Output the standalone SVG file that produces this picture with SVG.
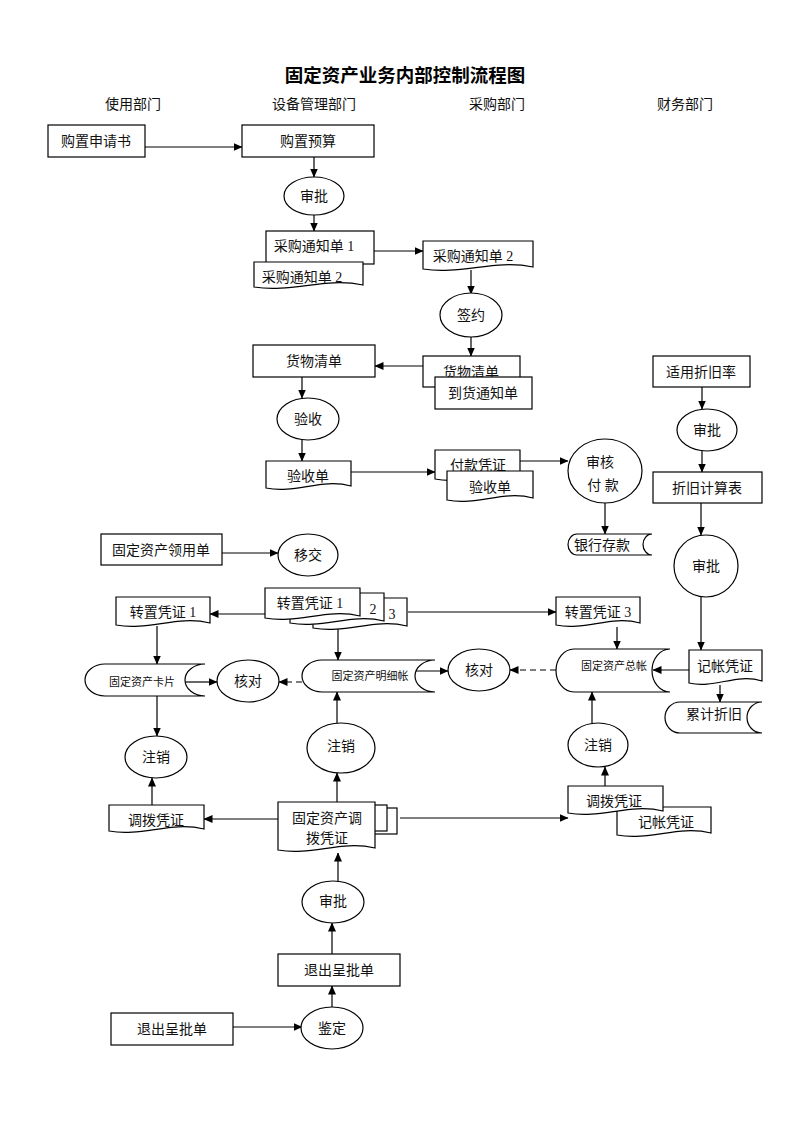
<svg xmlns="http://www.w3.org/2000/svg" width="800" height="1132" viewBox="0 0 800 1132">
<style>
.s{fill:#fff;stroke:#000;stroke-width:1.2}
.t{font-family:'Liberation Serif','Noto Sans CJK SC',serif;font-size:14px;fill:#111;text-anchor:middle;dominant-baseline:central}
.sm{font-size:11px}
.h{font-family:'Liberation Serif','Noto Sans CJK SC',serif;font-size:14px;fill:#111;text-anchor:middle;dominant-baseline:central}
.c{fill:none;stroke:#000;stroke-width:1.2;marker-end:url(#a)}
.d{stroke-dasharray:6,4}
</style>
<defs>
<marker id="a" markerWidth="9" markerHeight="8" refX="8.5" refY="4" orient="auto" markerUnits="userSpaceOnUse"><path d="M0,0 L9,4 L0,8 Z" fill="#000"/></marker>
</defs>
<rect width="800" height="1132" fill="#fff"/>
<text x="405" y="74" style="font-family:'Noto Sans CJK SC',sans-serif;font-size:18.5px;font-weight:bold;text-anchor:middle;dominant-baseline:central">固定资产业务内部控制流程图</text>
<g id="lanes">
<text class="h" x="133" y="104">使用部门</text>
<text class="h" x="314" y="104">设备管理部门</text>
<text class="h" x="497" y="104">采购部门</text>
<text class="h" x="685" y="104">财务部门</text>
</g>
<g id="connectors">
<path class="c" d="M145,147 H242"/>
<path class="c" d="M314,157 V177"/>
<path class="c" d="M314,215 V231"/>
<path class="c" d="M374,251 H423"/>
<path class="c" d="M471,270 V294"/>
<path class="c" d="M471,337 V356"/>
<path class="c" d="M423,366 H375"/>
<path class="c" d="M302,377 V398"/>
<path class="c" d="M302,440 V461"/>
<path class="c" d="M351,472 H435"/>
<path class="c" d="M520,461 H568"/>
<path class="c" d="M605,503 V534"/>
<path class="c" d="M702,387 V409"/>
<path class="c" d="M702,451 V472"/>
<path class="c" d="M701,503 V535"/>
<path class="c" d="M701,597 V650"/>
<path class="c" d="M689,670 H653"/>
<path class="c" d="M720,685 V702"/>
<path class="c" d="M617,627 V649"/>
<path class="c" d="M592,723 V692"/>
<path class="c d" d="M556,670 H510"/>
<path class="c" d="M414,671 H448"/>
<path class="c d" d="M302,682 H279"/>
<path class="c" d="M185,682 H217"/>
<path class="c" d="M157,626 V664"/>
<path class="c" d="M157,696 V736"/>
<path class="c" d="M152,805 V778"/>
<path class="c" d="M278,819 H204"/>
<path class="c" d="M337,802 V773"/>
<path class="c" d="M337,723 V692"/>
<path class="c" d="M338,618 V660"/>
<path class="c" d="M265,614 H210"/>
<path class="c" d="M408,612 H556"/>
<path class="c" d="M222,553 H278"/>
<path class="c" d="M400,818 H568"/>
<path class="c" d="M605,786 V767"/>
<path class="c" d="M338,882 V853"/>
<path class="c" d="M332,954 V923"/>
<path class="c" d="M332,1007 V986"/>
<path class="c" d="M233,1027 H302"/>
</g>
<g id="n1"><rect class="s" x="48" y="125" width="97" height="32"/><text class="t" x="96" y="141">购置申请书</text></g>
<g id="n2"><rect class="s" x="242" y="125" width="132" height="32"/><text class="t" x="308" y="141">购置预算</text></g>
<g id="n3"><ellipse class="s" cx="314" cy="196" rx="30" ry="19"/><text class="t" x="314" y="196">审批</text></g>
<g id="n4"><rect class="s" x="266" y="231" width="108" height="33"/><text class="t" x="314" y="246">采购通知单 1</text></g>
<g id="n5"><path class="s" d="M254,262 H363 V285 C325,277 292,293 254,287 Z"/><text class="t" x="302" y="277">采购通知单 2</text></g>
<g id="n6"><path class="s" d="M423,241 H533 V267 C495,259 461,275 423,269 Z"/><text class="t" x="473" y="256">采购通知单 2</text></g>
<g id="n7"><ellipse class="s" cx="471" cy="315" rx="31" ry="22"/><text class="t" x="471" y="315">签约</text></g>
<g id="n8"><rect class="s" x="423" y="356" width="97" height="31"/><text class="t" x="471" y="372">货物清单</text></g>
<g id="n9"><rect class="s" x="435" y="377" width="97" height="32"/><text class="t" x="483" y="393">到货通知单</text></g>
<g id="n10"><rect class="s" x="253" y="345" width="122" height="32"/><text class="t" x="314" y="361">货物清单</text></g>
<g id="n11"><ellipse class="s" cx="308" cy="419" rx="31" ry="21"/><text class="t" x="308" y="419">验收</text></g>
<g id="n12"><path class="s" d="M266,461 H351 V486 C321,478 296,494 266,488 Z"/><text class="t" x="308" y="476">验收单</text></g>
<g id="n13"><path class="s" d="M435,450 H520 V477 C490,469 465,485 435,479 Z"/><text class="t" x="478" y="465">付款凭证</text></g>
<g id="n14"><path class="s" d="M447,471 H533 V498 C503,490 477,506 447,500 Z"/><text class="t" x="490" y="487">验收单</text></g>
<g id="n15"><ellipse class="s" cx="605" cy="471" rx="37" ry="32"/><text class="t" x="600" y="462">审核</text><text class="t" x="603" y="485">付 款</text></g>
<g id="n16"><path class="s" d="M577,534 H652 A9,10.5 0 0 0 652,555 H577 A9,10.5 0 0 1 577,534 Z"/><text class="t" x="602" y="545">银行存款</text></g>
<g id="n17"><rect class="s" x="653" y="356" width="97" height="31"/><text class="t" x="701" y="372">适用折旧率</text></g>
<g id="n18"><ellipse class="s" cx="707" cy="430" rx="30" ry="21"/><text class="t" x="707" y="430">审批</text></g>
<g id="n19"><rect class="s" x="653" y="472" width="109" height="31"/><text class="t" x="707" y="488">折旧计算表</text></g>
<g id="n20"><ellipse class="s" cx="706" cy="566" rx="32" ry="31"/><text class="t" x="706" y="566">审批</text></g>
<g id="n21"><path class="s" d="M689,650 H762 V681 C736,673 715,689 689,683 Z"/><text class="t" x="725" y="666">记帐凭证</text></g>
<g id="n22"><path class="s" d="M680,702 H762 A15,15.5 0 0 0 762,733 H680 A15,15.5 0 0 1 680,702 Z"/><text class="t" x="714" y="714">累计折旧</text></g>
<g id="n23"><path class="s" d="M574,649 H670 A18,21.5 0 0 0 670,692 H574 A18,21.5 0 0 1 574,649 Z"/><text class="t sm" x="614" y="666">固定资产总帐</text></g>
<g id="n24"><path class="s" d="M556,597 H640 V623 C611,615 585,631 556,625 Z"/><text class="t" x="598" y="612">转置凭证 3</text></g>
<g id="n25"><rect class="s" x="101" y="534" width="121" height="31"/><text class="t" x="161" y="550">固定资产领用单</text></g>
<g id="n26"><ellipse class="s" cx="308" cy="555" rx="30" ry="21"/><text class="t" x="308" y="555">移交</text></g>
<g id="n27"><path class="s" d="M116,597 H210 V623 C177,615 149,631 116,625 Z"/><text class="t" x="163" y="612">转置凭证 1</text></g>
<g id="n28">
<path class="s" d="M313,598 H407 V626 C374,618 346,634 313,628 Z"/>
<path class="s" d="M290,593 H384 V621 C351,613 323,629 290,623 Z"/>
<path class="s" d="M265,588 H360 V616 C327,608 298,624 265,618 Z"/>
<text class="t" x="310" y="603">转置凭证 1</text>
<text class="t" x="373" y="609">2</text>
<text class="t" x="392" y="614">3</text>
</g>
<g id="n29"><path class="s" d="M105,664 H205 A20,16 0 0 0 205,696 H105 A20,16 0 0 1 105,664 Z"/><text class="t sm" x="142" y="682">固定资产卡片</text></g>
<g id="n30"><ellipse class="s" cx="248" cy="681" rx="31" ry="21"/><text class="t" x="248" y="681">核对</text></g>
<g id="n31"><path class="s" d="M322,660 H435 A20,16 0 0 0 435,692 H322 A20,16 0 0 1 322,660 Z"/><text class="t sm" x="370" y="676">固定资产明细帐</text></g>
<g id="n32"><ellipse class="s" cx="479" cy="670" rx="31" ry="21"/><text class="t" x="479" y="670">核对</text></g>
<g id="n33"><ellipse class="s" cx="156" cy="757" rx="31" ry="21"/><text class="t" x="156" y="757">注销</text></g>
<g id="n34"><ellipse class="s" cx="341" cy="748" rx="34" ry="25"/><text class="t" x="341" y="746">注销</text></g>
<g id="n35"><ellipse class="s" cx="598" cy="745" rx="30" ry="22"/><text class="t" x="598" y="745">注销</text></g>
<g id="n36"><path class="s" d="M109,805 H204 V829 C171,821 142,837 109,831 Z"/><text class="t" x="156" y="820">调拨凭证</text></g>
<g id="n37">
<rect class="s" x="298" y="808" width="99" height="26"/>
<rect class="s" x="288" y="805" width="99" height="26"/>
<path class="s" d="M278,802 H375 V848 C341,840 312,856 278,850 Z"/>
<text class="t" x="327" y="818">固定资产调</text>
<text class="t" x="327" y="838">拨凭证</text>
</g>
<g id="n38"><path class="s" d="M617,807 H711 V833 C678,825 650,841 617,835 Z"/><text class="t" x="666" y="822">记帐凭证</text></g>
<g id="n39"><path class="s" d="M568,786 H663 V811 C630,803 601,819 568,813 Z"/><text class="t" x="614" y="801">调拨凭证</text></g>
<g id="n40"><ellipse class="s" cx="333" cy="902" rx="31" ry="21"/><text class="t" x="333" y="901">审批</text></g>
<g id="n41"><rect class="s" x="278" y="954" width="122" height="32"/><text class="t" x="339" y="970">退出呈批单</text></g>
<g id="n42"><ellipse class="s" cx="332" cy="1028" rx="31" ry="21"/><text class="t" x="332" y="1028">鉴定</text></g>
<g id="n43"><rect class="s" x="111" y="1013" width="122" height="32"/><text class="t" x="172" y="1029">退出呈批单</text></g>
</svg>
